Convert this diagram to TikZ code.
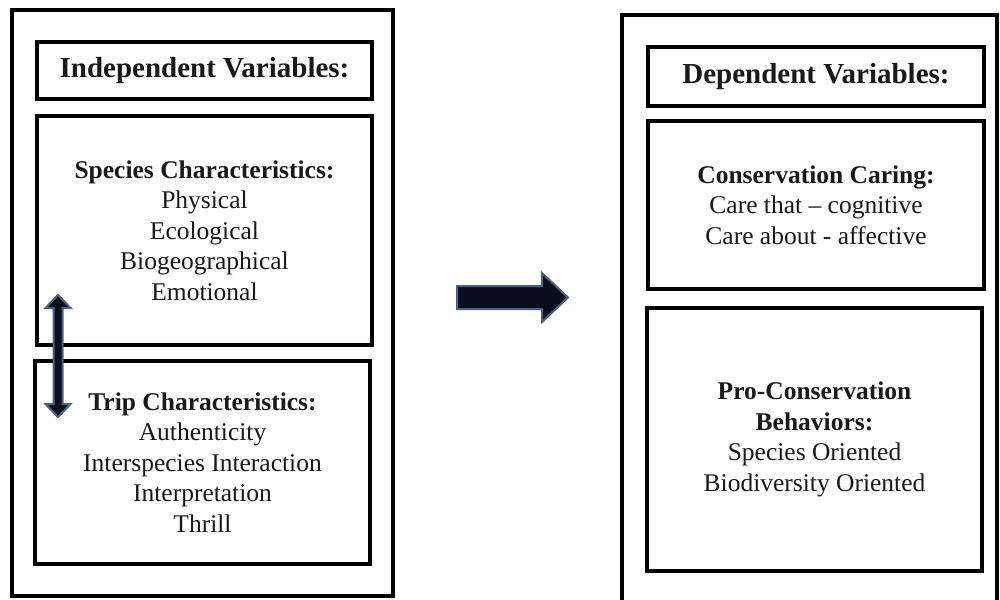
\documentclass[tikz,border=0pt]{standalone}
\usepackage{fontspec}
\setmainfont{Liberation Serif}
\begin{document}
\begin{tikzpicture}[x=1pt,y=-1pt,
  framebox/.style={draw=black, line width=4pt, inner sep=0pt},
  panel/.style={draw=black, line width=3.5pt, inner sep=0pt, align=center,
    text=black!90, font=\fontsize{25.5}{30.5}\selectfont},
  headbox/.style={panel, font=\fontsize{29}{34}\selectfont\bfseries},
  blockarrow/.style={fill={rgb,255:red,10;green,14;blue,28}, draw={rgb,255:red,70;green,96;blue,134},
    line width=2pt, line join=miter}]
\clip (0,0) rectangle (1000,599);
\fill[white] (0,0) rectangle (1000,599);

% independent variables column
\node[framebox, minimum width=381pt, minimum height=586pt] (left) at (202.5,303) {};
\node[headbox, minimum width=335pt, minimum height=57pt] (ivh) at (204.5,70.5) {Independent Variables:};
\node[panel, minimum width=335pt, minimum height=229pt] (species) at (204.5,230.5)
  {\textbf{Species Characteristics:}\\Physical\\Ecological\\Biogeographical\\Emotional};
\node[panel, minimum width=335pt, minimum height=203pt] (trip) at (202.5,462.5)
  {\textbf{Trip Characteristics:}\\Authenticity\\Interspecies Interaction\\Interpretation\\Thrill};

% dependent variables column (frame runs past the lower edge)
\draw[line width=4pt] (622,625) -- (622,15) -- (997,15) -- (997,625);
\coordinate (right) at (622,298);
\node[headbox, minimum width=336pt, minimum height=59pt] (dvh) at (816,76.5) {Dependent Variables:};
\node[panel, minimum width=336pt, minimum height=168pt] (caring) at (816,205)
  {\textbf{Conservation Caring:}\\Care that -- cognitive\\Care about - affective};
\node[panel, minimum width=335pt, minimum height=263pt] (behav) at (814.5,439.5)
  {\textbf{Pro-Conservation}\\\textbf{Behaviors:}\\Species Oriented\\Biodiversity Oriented};

% two-headed arrow linking the species and trip panels
\draw[blockarrow] (58,295) -- (70.5,308) -- (62.5,308) -- (62.5,404) -- (70.5,404)
  -- (58,417) -- (45.5,404) -- (53.5,404) -- (53.5,308) -- (45.5,308) -- cycle;

% block arrow from independent to dependent variables
\draw[blockarrow] (457,286) -- (542,286) -- (542,273) -- (568,297.5) -- (542,322)
  -- (542,309) -- (457,309) -- cycle;
\end{tikzpicture}
\end{document}
